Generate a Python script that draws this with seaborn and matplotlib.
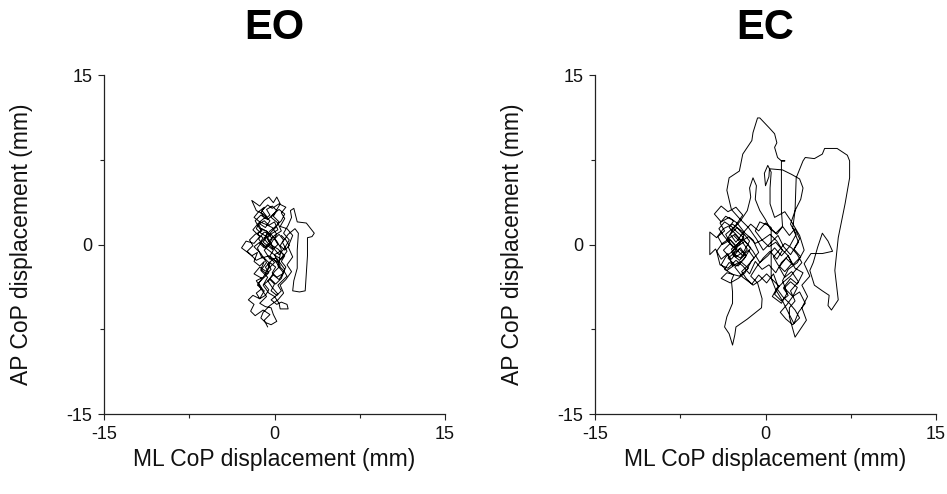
import matplotlib
matplotlib.use("Agg")
import matplotlib.pyplot as plt
import seaborn as sns
import pandas as pd
from matplotlib.ticker import FixedLocator

# Centre-of-pressure trajectory, eyes open (mm)
eo_ml = [-0.6, -0.9, -0.4, -1.0, -1.7, -2.1, -1.8, -2.3, -1.9, -1.3, -0.9, -1.5, -1.1, -1.8, -1.3, -0.7,
         -0.4, -1.0, -1.6, -2.1, -2.9, -2.5, -1.8, -1.3, -1.9, -1.4, -0.8, -0.4, -1.0, -1.6, -2.0, -1.3,
         -0.9, -0.5, -0.1, 0.2, 0.5, 0.1, -0.3, 0.3, 0.6, 0.0, -0.5, -0.1, 0.4, 0.9, 1.3, 0.8,
         1.2, 1.5, 1.4, 1.7, 2.0, 2.8, 3.5, 3.3, 2.9, 2.9, 2.8, 2.7, 2.2, 1.6, 1.7, 2.0,
         2.0, 2.1, 1.8, 1.2, 0.7, 1.1, 0.6, 0.1, -0.4, -0.9, -1.4, -0.9, -0.3, 0.2, 0.6, 0.3,
         0.8, 0.4, -0.1, -0.6, -0.2, 0.3, -0.3, 0.2, 0.6, 1.1, 1.2, 0.5, 0.4, 0.0, -0.5, -1.0,
         -0.6, -1.2, -0.7, -1.2, -1.8, -1.3, -0.7, -0.2, -0.7, -1.3, -1.7, -1.2, -0.6, -0.1, 0.4, 0.9,
         0.6, 0.1, -0.4, -1.0, -1.5, -1.1, -0.5, 0.0, -0.5, -1.0, -1.6, -1.2, -0.7, -1.3, -0.8, -0.3,
         -0.1, 0.2, -0.3, -0.8, -1.2, -1.0, -0.4, 0.3, 0.8, 0.5, 1.0, 1.5, 1.1, 1.6, 1.2, 1.6,
         1.1, 0.5, 0.9, 0.6, 1.0, 0.4, -0.2, -0.6, -1.1, -0.7, -1.3, -0.8, -0.2, 0.2, -0.3, -0.9,
         -0.4, 0.2, 0.5, 0.0, -0.4, 0.1, 0.6, 0.9, 0.4, 0.8, 0.3, -0.2, -0.6, -0.2, 0.3, 0.0,
         -0.5,
         -0.9, -1.4, -1.1, -1.7, -2.2, -1.9, -2.4, -2.0, -1.5, -1.8,
         -1.3, -0.9, -1.2, -0.7, -0.3, -0.6, -0.1, 0.3, 0.0, 0.5,
         0.9, 0.6, 1.0, 0.7, 0.2, -0.2, 0.1, -0.4, -0.8, -0.5,
         -1.0, -1.4, -1.1, -1.6, -1.3, -0.8, -0.5, -0.9, -0.4, 0.0,
         -0.3, 0.2, 0.6, 0.3, 0.7, 1.1, 0.8, 0.4, 0.0, -0.4,
         -0.1, -0.6, -1.0, -0.7, -1.2, -1.6, -1.3, -1.8, -1.4, -0.9,
         -1.2, -0.8, -0.4, -0.7, -0.2, 0.2, -0.1, 0.4, 0.1, -0.3,
         -0.7, -0.4, -0.9, -1.3, -1.0, -1.5, -1.1, -0.6, -0.9, -0.5,
         -0.1, 0.3, 0.0, 0.4, 0.8, 0.5, 0.9, 1.3, 1.0, 0.6]
eo_ap = [-7.3, -6.7, -6.2, -5.8, -6.3, -5.9, -5.3, -4.9, -4.5, -4.8, -4.1, -3.6, -3.0, -2.6, -2.0, -2.4,
         -1.7, -1.1, -1.4, -0.9, -0.3, 0.3, 0.1, 0.7, 1.3, 1.9, 1.5, 2.1, 2.7, 3.0, 3.9, 3.4,
         3.9, 4.2, 3.7, 4.2, 3.6, 2.9, 2.4, 1.9, 1.2, 0.8, 0.3, -0.3, -0.9, -0.3, 0.4, 1.0,
         1.7, 2.4, 3.0, 3.2, 2.0, 1.9, 1.0, 0.7, 0.6, -1.0, -2.6, -4.1, -4.2, -4.1, -3.2, -2.1,
         -0.5, 1.0, 1.4, 0.9, 0.2, -0.6, -1.3, -1.0, -0.6, -0.2, 0.5, 1.1, 0.9, 0.3, -0.4, -1.9,
         -2.5, -3.1, -2.7, -3.2, -3.8, -4.4, -4.9, -5.3, -5.1, -5.3, -5.7, -5.7, -5.2, -4.6, -4.3, -3.6,
         -2.9, -2.3, -1.6, -0.8, -0.2, 0.2, -0.2, 0.5, 1.2, 1.4, 2.1, 2.6, 2.2, 2.7, 3.1, 2.7,
         2.1, 1.6, 1.2, 0.4, -0.3, -1.2, -1.0, -1.6, -2.1, -2.9, -3.2, -3.9, -4.6, -5.2, -5.5, -5.6,
         -6.2, -6.8, -7.1, -6.9, -6.5, -6.0, -5.4, -4.9, -4.3, -3.6, -3.1, -2.4, -1.8, -1.1, -0.2, 0.8,
         1.4, 1.6, 2.3, 2.8, 3.3, 3.6, 3.2, 3.5, 3.0, 2.5, 2.0, 1.8, 1.5, 0.9, 0.1, -0.5,
         -1.3, -1.2, -1.9, -2.4, -3.0, -3.5, -3.0, -2.2, -1.5, -0.9, -0.4, -0.1, 0.6, 1.0, 1.3, 2.0,
         1.7,
         2.1, 1.8, 1.2, 0.9, 0.4, -0.1, -0.6, -1.0, -0.7, -1.5,
         -1.9, -1.5, -2.2, -2.6, -2.2, -1.7, -1.3, -1.6, -0.9, -0.6,
         -1.0, -1.5, -2.0, -2.6, -2.9, -2.5, -2.0, -1.6, -2.0, -2.5,
         -3.0, -3.4, -3.9, -4.3, -4.8, -4.5, -4.0, -3.5, -3.1, -3.5,
         -4.1, -4.5, -4.1, -3.6, -3.2, -2.8, -2.3, -1.9, -1.4, -1.0,
         -0.5, -0.1, 0.2, 0.7, 1.0, 1.4, 2.0, 2.4, 2.9, 3.3,
         2.8, 2.3, 2.6, 3.1, 3.4, 3.0, 2.5, 2.0, 1.5, 1.1,
         0.6, 0.1, -0.3, 0.1, 0.6, 0.9, 1.4, 1.1, 0.5, 0.0,
         -0.4, 0.0, 0.5, 0.9, 0.4, -0.1, -0.5, -0.1, 0.4, 0.8]

# Centre-of-pressure trajectory, eyes closed (mm)
ec_ml = [-2.8, -2.2, -3.0, -2.6, -1.9, -1.4, -2.1, -2.9, -3.7, -4.3, -4.9, -4.9, -4.4, -3.9, -3.3, -2.9,
         -2.2, -1.5, -2.3, -3.4, -3.9, -3.1, -2.4, -1.8, -1.2, -0.6, -1.1, -1.8, -2.5, -3.2, -3.9, -4.5,
         -3.9, -3.3, -2.6, -2.0, -2.7, -3.5, -3.1, -3.7, -3.0, -2.3, -1.7, -2.4, -3.2, -3.6, -2.8, -3.0,
         -2.9, -2.9, -3.4, -3.6, -3.2, -2.9, -2.7, -2.6, -1.6, -0.35, -0.3, -0.7, -1.3, -0.8, -0.2, 0.4,
         1.0, 1.5, 1.0, 0.4, -0.3, -0.9, -0.5, 0.2, 0.9, 1.5, 2.1, 2.6, 3.0, 2.5, 3.1, 2.4,
         1.8, 1.2, 1.7, 2.3, 2.9, 2.2, 2.6, 2.1, 2.1, 2.6, 3.2, 3.6, 3.2, 3.7, 3.2, 3.9,
         3.4, 4.0, 5.0, 5.9, 5.5, 5.0, 4.6, 4.2, 3.9, 4.3, 5.0, 5.6, 5.5, 5.8, 6.4, 6.1,
         6.4, 7.0, 7.4, 7.4, 7.2, 6.3, 5.2, 5.0, 4.3, 3.5, 3.3, 2.7, 2.6, 2.4, 2.9, 2.2,
         1.6, 1.1, 0.5, -0.2, -0.8, -1.5, -2.2, -3.0, -3.4, -3.2, -2.3, -2.0, -1.2, -1.1, -0.7, -0.5,
         0.35, 0.8, 1.0, 0.8, 1.06, 1.4, 1.7, 1.4, 1.4, 1.4, 1.5, 1.0, 0.4, 0.0, -0.5, -0.9,
         -0.8, -1.1, -1.4, -1.3, -1.6, -2.2, -2.9, -3.4, -2.8, -2.0, -1.3, -1.9, -2.7, -2.0, -1.2, -0.6,
         0.1, 0.7, 1.1, 0.6, 1.4, 1.9, 1.5, 2.0, 2.8, 3.4, 3.0, 2.3, 1.7, 0.8, 0.4, 0.4,
         0.5, 0.2, -0.1, 0.0, 0.3, 0.35, 1.5, 2.3, 3.0, 3.3, 3.1, 2.6, 2.2, 2.7, 2.1, 1.4,
         0.8, 0.2, -0.5, -1.1, -1.8, -2.5, -3.2, -3.8, -4.3, -4.0, -3.3, -2.6, -2.0, -1.4, -0.9, -0.3,
         0.3, 0.9, 1.4, 2.0, 2.6, 3.3, 2.8, 2.2, 1.6, 2.4, 3.0, 3.5, 2.9, 2.5, 2.0, 1.5,
         0.9, 0.5, 0.5, 0.5, 0.0, -0.6, -1.3, -2.0, -2.6, -3.1, -2.5, -1.9, -2.3, -3.0, -2.2, -1.6,
         -2.1, -2.6, -3.2, -2.8, -3.5, -4.0, -3.6, -4.2, -3.8, -3.1,
         -2.5, -2.9, -2.3, -1.8, -2.2, -2.8, -3.3, -2.7, -3.4, -3.9,
         -3.5, -2.9, -2.4, -1.9, -2.5, -3.0, -3.6, -4.1, -3.7, -3.2,
         -2.6, -2.0, -1.5, -1.0, -1.6, -2.1, -1.7, -1.1, -0.5, 0.1,
         0.6, 1.2, 0.8, 1.4, 2.0, 1.6, 2.2, 2.8, 2.4, 1.9,
         1.3, 1.8, 2.4, 3.0, 2.6, 2.1, 1.5, 1.0, 1.6, 2.2,
         2.7, 3.2, 2.8, 2.3, 1.7, 1.2, 0.7, 1.1, 1.7, 2.3,
         2.0, 1.4, 0.9, 0.3, -0.3, -0.9, -1.5, -2.1, -2.7, -3.3]
ec_ap = [0.8, 0.2, -0.4, -1.1, -0.6, 0.3, 1.2, 1.8, 1.4, 0.6, 1.1, -0.9, -0.4, -1.3, -0.8, -1.9,
         -1.5, -2.1, -2.8, -2.5, -3.0, -3.4, -3.0, -2.5, -1.4, -0.7, 0.4, 1.0, 1.9, 2.4, 2.0, 2.7,
         3.4, 2.9, 3.3, 2.6, 1.6, 0.9, 0.1, -0.5, -1.3, -0.4, -1.0, -1.9, -1.6, -2.2, -2.7, -3.2,
         -4.2, -5.2, -6.4, -7.3, -7.9, -8.9, -8.0, -7.3, -6.6, -5.6, -4.8, -3.4, -2.8, -2.0, -1.2, -0.6,
         -1.3, -0.5, 0.3, 0.9, 0.4, 1.2, 2.0, 1.7, 1.0, 1.6, 0.8, 1.4, 0.5, -0.4, -1.1, -1.8,
         -1.2, -2.0, -2.9, -2.4, -3.3, -4.1, -5.0, -5.6, -6.4, -8.2, -7.3, -6.7, -5.6, -4.6, -3.6, -2.8,
         -1.7, -0.8, -0.8, -0.6, 0.3, 1.0, -0.2, -1.6, -2.3, -3.6, -4.1, -4.5, -5.4, -5.8, -4.9, -2.3,
         0.6, 3.6, 5.9, 7.4, 7.9, 8.5, 8.5, 8.0, 7.6, 7.7, 7.4, 5.9, 3.0, 1.5, 0.2, -0.9,
         -0.2, 0.8, 0.2, -0.5, 0.5, 1.5, 2.2, 3.1, 4.8, 5.9, 6.5, 8.0, 9.2, 9.9, 11.2, 11.2,
         10.3, 9.8, 9.0, 8.6, 7.7, 7.4, 7.4, 7.4, 5.0, 3.0, 1.6, 0.9, 1.4, 2.2, 3.0, 4.0,
         5.2, 5.9, 5.0, 4.2, 3.0, 2.1, 1.3, 0.4, -0.3, 0.5, -0.3, -1.3, -2.0, -2.9, -3.5, -2.7,
         -3.4, -2.6, -3.7, -4.6, -5.2, -4.3, -3.2, -2.2, -1.6, -0.5, 0.8, 2.0, 2.9, 2.4, 3.6, 5.0,
         6.4, 7.0, 6.3, 5.2, 6.0, 6.7, 6.6, 6.2, 5.8, 5.0, 4.0, 3.0, 1.8, 0.9, -0.2, -1.0,
         -0.3, -1.0, -1.6, -0.6, 0.3, -0.2, 0.5, 0.1, -0.6, -1.8, -2.1, -1.4, -1.9, -2.6, -1.5, -2.2,
         -1.8, -2.5, -1.6, -1.0, -2.1, -2.5, -3.5, -3.0, -3.8, -4.6, -4.2, -5.2, -6.0, -7.0, -6.0, -5.0,
         -4.0, -3.0, -1.0, 1.5, 1.9, 1.2, 1.8, 1.0, 0.2, 0.9, 1.5, 0.8, 0.0, -0.7, -1.2, -0.4,
         0.3, 0.9, 1.5, 2.1, 2.5, 1.9, 1.2, 0.7, 0.0, 0.4,
         -0.3, -0.9, -1.4, -0.9, -0.3, -0.8, -1.2, -1.8, -2.3, -1.8,
         -1.1, -0.6, 0.1, 0.6, 1.1, 1.6, 2.0, 1.4, 0.8, 0.2,
         -0.4, -1.0, -0.5, -1.2, -1.9, -2.4, -3.0, -3.6, -3.2, -2.6,
         -3.1, -3.7, -4.4, -5.0, -4.5, -3.9, -3.3, -3.8, -4.6, -5.3,
         -6.0, -6.6, -7.1, -6.5, -5.8, -5.2, -4.6, -3.9, -3.3, -2.8,
         -2.2, -1.6, -0.9, -0.3, 0.1, -0.5, -1.1, -1.8, -2.4, -1.7,
         -1.0, -0.4, 0.2, -0.2, 0.4, 0.1, 0.7, 0.3, 0.9, 0.5]

panels = [("EO", eo_ml, eo_ap), ("EC", ec_ml, ec_ap)]
major_ticks = [-15, 0, 15]
minor_ticks = [-7.5, 7.5]

sns.set_theme(style="ticks")
plt.rcParams["font.family"] = ["Liberation Sans", "DejaVu Sans"]
plt.rcParams["text.color"] = "black"
plt.rcParams["axes.labelcolor"] = "black"

fig = plt.figure(figsize=(9.47, 4.94), dpi=100)
W, H = 947, 494
axes_px = [(104, 75, 341, 339), (595, 75, 341, 339)]

for (title, ml, ap), (x0, y0, w, h) in zip(panels, axes_px):
    ax = fig.add_axes([x0 / W, 1 - (y0 + h) / H, w / W, h / H])
    df = pd.DataFrame({"ML": ml, "AP": ap})
    sns.lineplot(data=df, x="ML", y="AP", sort=False, estimator=None,
                 color="black", linewidth=0.7, ax=ax)
    ax.set_xlim(-15, 15)
    ax.set_ylim(-15, 15)
    ax.xaxis.set_major_locator(FixedLocator(major_ticks))
    ax.yaxis.set_major_locator(FixedLocator(major_ticks))
    ax.xaxis.set_minor_locator(FixedLocator(minor_ticks))
    ax.yaxis.set_minor_locator(FixedLocator(minor_ticks))
    ax.set_xticklabels(["-15", "0", "15"])
    ax.set_yticklabels(["-15", "0", "15"])
    ax.tick_params(which="major", length=4.5, width=0.8, labelsize=13, pad=4,
                   colors="#222222", labelcolor="#111111")
    ax.tick_params(which="minor", length=2.8, width=0.8, colors="#222222")
    for side in ("left", "bottom"):
        ax.spines[side].set_linewidth(0.9)
        ax.spines[side].set_color("#222222")
    sns.despine(ax=ax)
    ax.set_xlabel("ML CoP displacement (mm)", fontsize=16.5, labelpad=4, color="#111111")
    ax.set_ylabel("AP CoP displacement (mm)", fontsize=16.5, labelpad=24, color="#111111")
    ax.set_title(title, fontsize=30, fontweight="bold", pad=26, color="black")

fig.savefig("out.png", dpi=100)
